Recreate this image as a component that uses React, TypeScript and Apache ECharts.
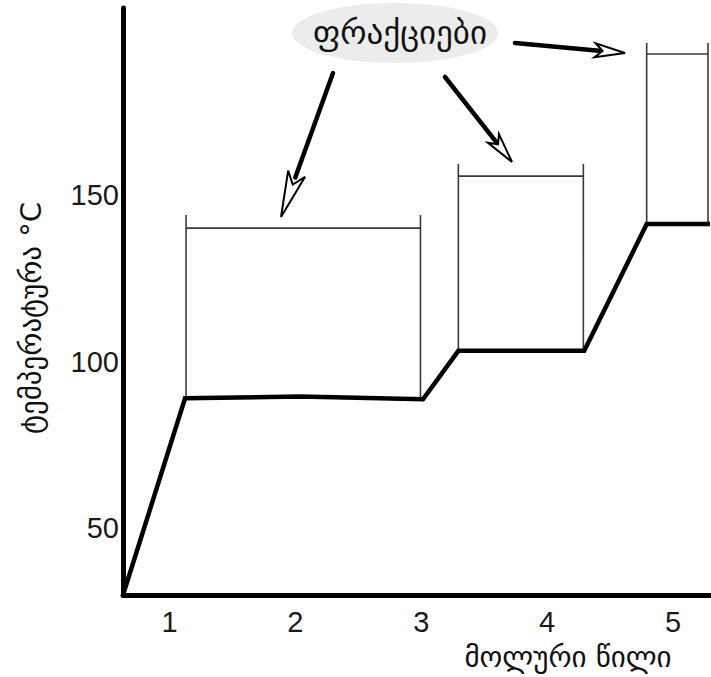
import React, { useEffect, useRef } from "react";
import * as echarts from "echarts";

// Axis ranges and tick labels
const xRange = [0.631, 5.294];
const yRange = [30, 206];
const xTicks = [1, 2, 3, 4, 5];
const yTicks = [50, 100, 150];

// Boiling (temperature) curve
const curveX = [0.631, 1.124, 2.037, 3.014, 3.295, 4.295, 4.791, 5.294];
const curveY = [30, 89.0, 89.5, 88.7, 103.2, 103.2, 141.2, 141.2];

// Fraction brackets
const fracLeft = [1.132, 3.295, 4.791];
const fracRight = [2.994, 4.288, 5.278];
const fracBase = [89.0, 103.2, 141.2];
const fracBar = [140.0, 155.6, 192.2];
const fracTop = [143.9, 159.2, 195.5];

const titleText = "ფრაქციები";
const xName = "მოლური წილი";
const yName = "ტემპერატურა °C";

const GEO = "DejaVu Sans";
const NUM = "Liberation Sans";

function arrowGraphics(tail: number[], tip: number[], headLen: number, headHalf: number) {
  const dx = tip[0] - tail[0];
  const dy = tip[1] - tail[1];
  const len = Math.sqrt(dx * dx + dy * dy);
  const ux = dx / len;
  const uy = dy / len;
  const bx = tip[0] - ux * headLen;
  const by = tip[1] - uy * headLen;
  const px = -uy;
  const py = ux;
  return [
    {
      type: "line",
      shape: { x1: tail[0], y1: tail[1], x2: bx + ux * 4, y2: by + uy * 4 },
      style: { stroke: "#000", lineWidth: 4.5, lineCap: "round" },
    },
    {
      type: "polygon",
      shape: {
        points: [
          [tip[0], tip[1]],
          [bx + px * headHalf, by + py * headHalf],
          [bx + ux * headLen * 0.25, by + uy * headLen * 0.25],
          [bx - px * headHalf, by - py * headHalf],
        ],
      },
      style: { fill: "#fff", stroke: "#000", lineWidth: 2, lineJoin: "miter" },
    },
  ];
}

export default function App() {
  const ref = useRef<HTMLDivElement>(null);
  useEffect(() => {
    if (!ref.current) return;
    const chart = echarts.init(ref.current, null, { renderer: "svg" });

    const bracketSeries: any[] = [];
    for (let i = 0; i < fracLeft.length; i++) {
      const segs = [
        [[fracLeft[i], fracBase[i]], [fracLeft[i], fracTop[i]]],
        [[fracRight[i], fracBase[i]], [fracRight[i], fracTop[i]]],
        [[fracLeft[i], fracBar[i]], [fracRight[i], fracBar[i]]],
      ];
      segs.forEach((d) => {
        bracketSeries.push({
          type: "line",
          data: d,
          symbol: "none",
          lineStyle: { color: "#3a3a3a", width: 1.6 },
          z: 2,
          silent: true,
        });
      });
    }

    const option: any = {
      animation: false,
      backgroundColor: "#fff",
      grid: { left: 123, right: 1, top: 8, bottom: 82, containLabel: false },
      xAxis: {
        type: "value",
        min: xRange[0],
        max: xRange[1],
        splitLine: { show: false },
        axisTick: { show: false },
        axisLine: { show: true, onZero: false, lineStyle: { color: "#000", width: 5 } },
        axisLabel: {
          customValues: xTicks,
          fontSize: 29,
          fontFamily: NUM,
          color: "#1a1a1a",
          margin: 12,
          lineHeight: 30,
        },
      },
      yAxis: {
        type: "value",
        min: yRange[0],
        max: yRange[1],
        splitLine: { show: false },
        axisTick: { show: false },
        axisLine: { show: true, onZero: false, lineStyle: { color: "#000", width: 5 } },
        axisLabel: {
          customValues: yTicks,
          fontSize: 29,
          fontFamily: NUM,
          color: "#1a1a1a",
          margin: 4,
        },
      },
      series: [
        {
          type: "line",
          data: curveX.map((x, i) => [x, curveY[i]]),
          symbol: "none",
          lineStyle: { color: "#000", width: 4.5, join: "miter" },
          z: 3,
          silent: true,
        },
        ...bracketSeries,
      ],
      graphic: [
        {
          type: "ellipse",
          shape: { cx: 395, cy: 33, rx: 103, ry: 30 },
          style: { fill: "#ececec" },
          z: 1,
        },
        {
          type: "text",
          x: 400,
          y: 32,
          style: {
            text: titleText,
            font: `33px "${GEO}"`,
            fill: "#111",
            align: "center",
            verticalAlign: "middle",
          },
          z: 2,
        },
        {
          type: "text",
          x: 568,
          y: 657,
          style: {
            text: xName,
            font: `29px "${GEO}"`,
            fill: "#111",
            align: "center",
            verticalAlign: "middle",
          },
        },
        {
          type: "text",
          x: 31,
          y: 318,
          rotation: Math.PI / 2,
          style: {
            text: yName,
            font: `29px "${GEO}"`,
            fill: "#111",
            align: "center",
            verticalAlign: "middle",
          },
        },
        ...arrowGraphics([333, 73], [281, 217], 46, 9),
        ...arrowGraphics([445, 77], [512, 162], 30, 7),
        ...arrowGraphics([515, 43], [625, 53], 30, 7),
      ],
    };
    chart.setOption(option);
    return () => chart.dispose();
  }, []);
  return (
    <div
      ref={ref}
      style={{ position: "absolute", left: 0, top: 0, width: 711, height: 677 }}
    />
  );
}
